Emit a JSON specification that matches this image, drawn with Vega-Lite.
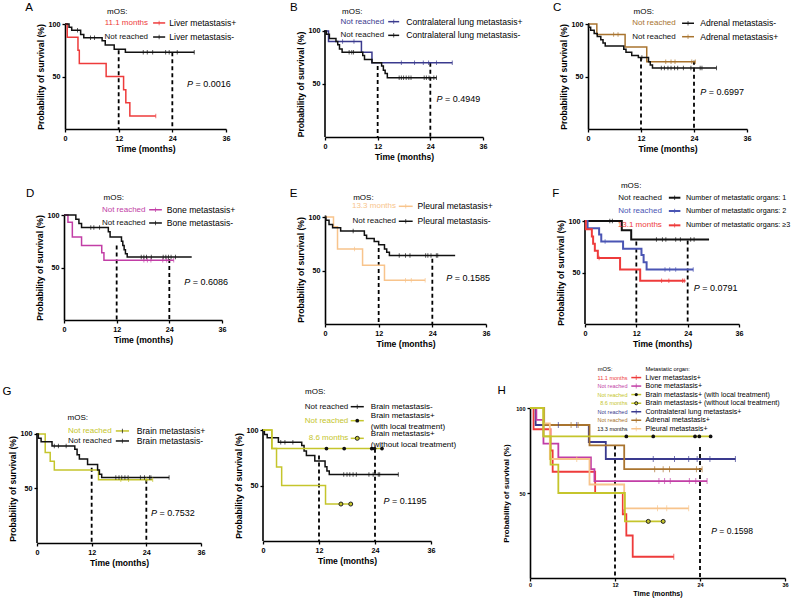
{
"$schema":"https://vega.github.io/schema/vega-lite/v6.json",
"padding":0,"background":"white",
"config":{"font":"Liberation Sans","view":{"stroke":null},
"axis":{"domainColor":"#000","domainWidth":1.6,"tickColor":"#000","tickWidth":1.3,"tickSize":3,"labelColor":"#000","labelFontWeight":"bold","labelFontSize":7.2,"labelPadding":2,"labelFlush":false,"labelOverlap":false,"titleColor":"#000","titleFontWeight":"bold","titleFontSize":8.6,"titlePadding":3,"grid":false}},
"datasets":{
"km":[
{"c":"liver","g":"liver","t":0,"s":100},{"c":"liver","g":"liver","t":0.5,"s":87.5},{"c":"liver","g":"liver","t":2.9,"s":75},{"c":"liver","g":"liver","t":3.2,"s":62.5},{"c":"liver","g":"liver","t":9.2,"s":50},{"c":"liver","g":"liver","t":13.1,"s":37.5},{"c":"liver","g":"liver","t":13.6,"s":25},{"c":"liver","g":"liver","t":14.5,"s":12.5},{"c":"liver","g":"liver","t":20.3,"s":12.5},
{"c":"liverneg","g":"neg","t":0,"s":100},{"c":"liverneg","g":"neg","t":0.9,"s":97},{"c":"liverneg","g":"neg","t":1.5,"s":94},{"c":"liverneg","g":"neg","t":3.5,"s":90},{"c":"liverneg","g":"neg","t":4.2,"s":87},{"c":"liverneg","g":"neg","t":8.3,"s":84},{"c":"liverneg","g":"neg","t":9.0,"s":80},{"c":"liverneg","g":"neg","t":11.0,"s":76},{"c":"liverneg","g":"neg","t":13.5,"s":73},{"c":"liverneg","g":"neg","t":28.9,"s":73},
{"c":"lung","g":"lung","t":0,"s":100},{"c":"lung","g":"lung","t":0.8,"s":90},{"c":"lung","g":"lung","t":8.3,"s":80},{"c":"lung","g":"lung","t":10.7,"s":70},{"c":"lung","g":"lung","t":29,"s":70},
{"c":"lungneg","g":"neg","t":0,"s":100},{"c":"lungneg","g":"neg","t":0.3,"s":97},{"c":"lungneg","g":"neg","t":1.0,"s":93},{"c":"lungneg","g":"neg","t":2.5,"s":90},{"c":"lungneg","g":"neg","t":2.9,"s":87},{"c":"lungneg","g":"neg","t":3.3,"s":83},{"c":"lungneg","g":"neg","t":3.9,"s":80},{"c":"lungneg","g":"neg","t":8.6,"s":77},{"c":"lungneg","g":"neg","t":9.0,"s":73},{"c":"lungneg","g":"neg","t":10.7,"s":70},{"c":"lungneg","g":"neg","t":12.9,"s":67},{"c":"lungneg","g":"neg","t":13.3,"s":63},{"c":"lungneg","g":"neg","t":13.7,"s":60},{"c":"lungneg","g":"neg","t":14.2,"s":56},{"c":"lungneg","g":"neg","t":25.4,"s":56},
{"c":"adr","g":"adrenal","t":0,"s":100},{"c":"adr","g":"adrenal","t":2.0,"s":90},{"c":"adr","g":"adrenal","t":8.4,"s":78},{"c":"adr","g":"adrenal","t":13.3,"s":64},{"c":"adr","g":"adrenal","t":24.3,"s":64},
{"c":"adrneg","g":"neg","t":0,"s":100},{"c":"adrneg","g":"neg","t":0.15,"s":97},{"c":"adrneg","g":"neg","t":0.6,"s":94},{"c":"adrneg","g":"neg","t":1.4,"s":91},{"c":"adrneg","g":"neg","t":2.1,"s":88},{"c":"adrneg","g":"neg","t":2.9,"s":85},{"c":"adrneg","g":"neg","t":3.4,"s":82},{"c":"adrneg","g":"neg","t":3.9,"s":79},{"c":"adrneg","g":"neg","t":8.1,"s":76},{"c":"adrneg","g":"neg","t":8.6,"s":73},{"c":"adrneg","g":"neg","t":9.9,"s":70},{"c":"adrneg","g":"neg","t":11.4,"s":68},{"c":"adrneg","g":"neg","t":13.7,"s":64},{"c":"adrneg","g":"neg","t":14.1,"s":61},{"c":"adrneg","g":"neg","t":14.6,"s":58},{"c":"adrneg","g":"neg","t":29.1,"s":58},
{"c":"bone","g":"bone","t":0,"s":100},{"c":"bone","g":"bone","t":0.9,"s":93},{"c":"bone","g":"bone","t":1.9,"s":79},{"c":"bone","g":"bone","t":4.0,"s":71},{"c":"bone","g":"bone","t":8.6,"s":64},{"c":"bone","g":"bone","t":9.1,"s":57},{"c":"bone","g":"bone","t":25,"s":57},
{"c":"boneneg","g":"neg","t":0,"s":100},{"c":"boneneg","g":"neg","t":2.7,"s":96},{"c":"boneneg","g":"neg","t":3.4,"s":92},{"c":"boneneg","g":"neg","t":4.0,"s":88},{"c":"boneneg","g":"neg","t":10.1,"s":84},{"c":"boneneg","g":"neg","t":10.5,"s":79},{"c":"boneneg","g":"neg","t":13.1,"s":75},{"c":"boneneg","g":"neg","t":13.4,"s":71},{"c":"boneneg","g":"neg","t":13.7,"s":67},{"c":"boneneg","g":"neg","t":14.0,"s":63},{"c":"boneneg","g":"neg","t":14.4,"s":60},{"c":"boneneg","g":"neg","t":29.1,"s":60},
{"c":"pleu","g":"pleural","t":0,"s":100},{"c":"pleu","g":"pleural","t":1.9,"s":91},{"c":"pleu","g":"pleural","t":2.8,"s":70},{"c":"pleu","g":"pleural","t":8.4,"s":55},{"c":"pleu","g":"pleural","t":13.3,"s":41},{"c":"pleu","g":"pleural","t":22.4,"s":41},
{"c":"pleuneg","g":"neg","t":0,"s":100},{"c":"pleuneg","g":"neg","t":0.2,"s":97},{"c":"pleuneg","g":"neg","t":0.9,"s":93},{"c":"pleuneg","g":"neg","t":1.7,"s":90},{"c":"pleuneg","g":"neg","t":3.5,"s":87},{"c":"pleuneg","g":"neg","t":8.8,"s":83},{"c":"pleuneg","g":"neg","t":9.3,"s":80},{"c":"pleuneg","g":"neg","t":11.0,"s":77},{"c":"pleuneg","g":"neg","t":12.0,"s":74},{"c":"pleuneg","g":"neg","t":13.3,"s":70},{"c":"pleuneg","g":"neg","t":13.8,"s":67},{"c":"pleuneg","g":"neg","t":14.4,"s":64},{"c":"pleuneg","g":"neg","t":29.1,"s":64},
{"c":"n1","g":"neg","t":0,"s":100},{"c":"n1","g":"neg","t":8.6,"s":91},{"c":"n1","g":"neg","t":10.8,"s":82},{"c":"n1","g":"neg","t":29,"s":82},
{"c":"n2","g":"n2","t":0,"s":100},{"c":"n2","g":"n2","t":0.6,"s":93},{"c":"n2","g":"n2","t":3.3,"s":87},{"c":"n2","g":"n2","t":3.8,"s":80},{"c":"n2","g":"n2","t":8.9,"s":73},{"c":"n2","g":"n2","t":13.2,"s":67},{"c":"n2","g":"n2","t":13.7,"s":60},{"c":"n2","g":"n2","t":14.4,"s":53},{"c":"n2","g":"n2","t":25.3,"s":53},
{"c":"n3","g":"n3","t":0,"s":100},{"c":"n3","g":"n3","t":0.2,"s":92},{"c":"n3","g":"n3","t":1.6,"s":85},{"c":"n3","g":"n3","t":1.9,"s":78},{"c":"n3","g":"n3","t":2.3,"s":71},{"c":"n3","g":"n3","t":3.0,"s":64},{"c":"n3","g":"n3","t":8.2,"s":53},{"c":"n3","g":"n3","t":12.9,"s":42},{"c":"n3","g":"n3","t":23.5,"s":42},
{"c":"brain","g":"brain","t":0,"s":100},{"c":"brain","g":"brain","t":1.8,"s":83},{"c":"brain","g":"brain","t":2.9,"s":75},{"c":"brain","g":"brain","t":3.8,"s":67},{"c":"brain","g":"brain","t":13.5,"s":58},{"c":"brain","g":"brain","t":25.4,"s":58},
{"c":"brainneg","g":"neg","t":0,"s":100},{"c":"brainneg","g":"neg","t":0.3,"s":96},{"c":"brainneg","g":"neg","t":0.9,"s":93},{"c":"brainneg","g":"neg","t":3.3,"s":89},{"c":"brainneg","g":"neg","t":8.3,"s":86},{"c":"brainneg","g":"neg","t":8.8,"s":81},{"c":"brainneg","g":"neg","t":9.3,"s":77},{"c":"brainneg","g":"neg","t":11.1,"s":72},{"c":"brainneg","g":"neg","t":13.3,"s":67},{"c":"brainneg","g":"neg","t":13.7,"s":63},{"c":"brainneg","g":"neg","t":14.2,"s":60},{"c":"brainneg","g":"neg","t":29,"s":60},
{"c":"bwith","g":"brain","t":0,"s":100},{"c":"bwith","g":"brain","t":1.9,"s":83.3},{"c":"bwith","g":"brain","t":25.5,"s":83.3},
{"c":"bwithout","g":"brain","t":0,"s":100},{"c":"bwithout","g":"brain","t":1.9,"s":83.3},{"c":"bwithout","g":"brain","t":2.9,"s":66.7},{"c":"bwithout","g":"brain","t":4.0,"s":50},{"c":"bwithout","g":"brain","t":13.4,"s":33.3},{"c":"bwithout","g":"brain","t":18.8,"s":33.3}
],
"cens":[
{"c":"liver","g":"liver","t":20.3,"s":12.5},
{"c":"liverneg","g":"neg","t":2.8,"s":94},{"c":"liverneg","g":"neg","t":5.7,"s":87},{"c":"liverneg","g":"neg","t":6.6,"s":87},{"c":"liverneg","g":"neg","t":17.5,"s":73},{"c":"liverneg","g":"neg","t":18.4,"s":73},{"c":"liverneg","g":"neg","t":19.6,"s":73},{"c":"liverneg","g":"neg","t":22.5,"s":73},{"c":"liverneg","g":"neg","t":23.3,"s":73},{"c":"liverneg","g":"neg","t":25.1,"s":73},{"c":"liverneg","g":"neg","t":28.9,"s":73},
{"c":"lung","g":"lung","t":4.0,"s":90},{"c":"lung","g":"lung","t":6.6,"s":90},{"c":"lung","g":"lung","t":17.4,"s":70},{"c":"lung","g":"lung","t":20.4,"s":70},{"c":"lung","g":"lung","t":22.4,"s":70},{"c":"lung","g":"lung","t":23.6,"s":70},{"c":"lung","g":"lung","t":25.4,"s":70},{"c":"lung","g":"lung","t":29,"s":70},
{"c":"lungneg","g":"neg","t":5.5,"s":80},{"c":"lungneg","g":"neg","t":6.1,"s":80},{"c":"lungneg","g":"neg","t":6.5,"s":80},{"c":"lungneg","g":"neg","t":16.9,"s":56},{"c":"lungneg","g":"neg","t":17.4,"s":56},{"c":"lungneg","g":"neg","t":17.9,"s":56},{"c":"lungneg","g":"neg","t":18.5,"s":56},{"c":"lungneg","g":"neg","t":19.1,"s":56},{"c":"lungneg","g":"neg","t":19.6,"s":56},{"c":"lungneg","g":"neg","t":22.6,"s":56},{"c":"lungneg","g":"neg","t":23.1,"s":56},{"c":"lungneg","g":"neg","t":23.7,"s":56},{"c":"lungneg","g":"neg","t":24.8,"s":56},{"c":"lungneg","g":"neg","t":25.4,"s":56},
{"c":"adr","g":"adrenal","t":5.8,"s":90},{"c":"adr","g":"adrenal","t":6.8,"s":90},{"c":"adr","g":"adrenal","t":17.6,"s":64},{"c":"adr","g":"adrenal","t":18.8,"s":64},{"c":"adr","g":"adrenal","t":19.7,"s":64},{"c":"adr","g":"adrenal","t":23.5,"s":64},{"c":"adr","g":"adrenal","t":24.3,"s":64},
{"c":"adrneg","g":"neg","t":12.2,"s":68},{"c":"adrneg","g":"neg","t":16.6,"s":58},{"c":"adrneg","g":"neg","t":17.3,"s":58},{"c":"adrneg","g":"neg","t":18.1,"s":58},{"c":"adrneg","g":"neg","t":18.8,"s":58},{"c":"adrneg","g":"neg","t":19.6,"s":58},{"c":"adrneg","g":"neg","t":20.3,"s":58},{"c":"adrneg","g":"neg","t":21.6,"s":58},{"c":"adrneg","g":"neg","t":23.3,"s":58},{"c":"adrneg","g":"neg","t":25.4,"s":58},{"c":"adrneg","g":"neg","t":25.8,"s":58},{"c":"adrneg","g":"neg","t":29.1,"s":58},
{"c":"bone","g":"bone","t":18.2,"s":57},{"c":"bone","g":"bone","t":19.0,"s":57},{"c":"bone","g":"bone","t":19.8,"s":57},{"c":"bone","g":"bone","t":22.5,"s":57},{"c":"bone","g":"bone","t":23.4,"s":57},{"c":"bone","g":"bone","t":25,"s":57},
{"c":"boneneg","g":"neg","t":6.1,"s":88},{"c":"boneneg","g":"neg","t":6.8,"s":88},{"c":"boneneg","g":"neg","t":8.1,"s":88},{"c":"boneneg","g":"neg","t":17.6,"s":60},{"c":"boneneg","g":"neg","t":18.2,"s":60},{"c":"boneneg","g":"neg","t":18.8,"s":60},{"c":"boneneg","g":"neg","t":19.9,"s":60},{"c":"boneneg","g":"neg","t":22.6,"s":60},{"c":"boneneg","g":"neg","t":23.2,"s":60},{"c":"boneneg","g":"neg","t":23.8,"s":60},{"c":"boneneg","g":"neg","t":24.4,"s":60},{"c":"boneneg","g":"neg","t":25.4,"s":60},
{"c":"pleu","g":"pleural","t":6.6,"s":70},{"c":"pleu","g":"pleural","t":18.0,"s":41},{"c":"pleu","g":"pleural","t":19.3,"s":41},{"c":"pleu","g":"pleural","t":22.4,"s":41},
{"c":"pleuneg","g":"neg","t":6.3,"s":87},{"c":"pleuneg","g":"neg","t":16.6,"s":64},{"c":"pleuneg","g":"neg","t":18.0,"s":64},{"c":"pleuneg","g":"neg","t":19.0,"s":64},{"c":"pleuneg","g":"neg","t":22.5,"s":64},{"c":"pleuneg","g":"neg","t":23.0,"s":64},{"c":"pleuneg","g":"neg","t":23.7,"s":64},{"c":"pleuneg","g":"neg","t":24.9,"s":64},{"c":"pleuneg","g":"neg","t":25.2,"s":64},
{"c":"n1","g":"neg","t":5.8,"s":100},{"c":"n1","g":"neg","t":6.4,"s":100},{"c":"n1","g":"neg","t":16.7,"s":82},{"c":"n1","g":"neg","t":18.1,"s":82},{"c":"n1","g":"neg","t":18.9,"s":82},{"c":"n1","g":"neg","t":21.2,"s":82},{"c":"n1","g":"neg","t":22.3,"s":82},{"c":"n1","g":"neg","t":24.7,"s":82},{"c":"n1","g":"neg","t":25.5,"s":82},
{"c":"n2","g":"n2","t":4.7,"s":80},{"c":"n2","g":"n2","t":18.7,"s":53},{"c":"n2","g":"n2","t":19.8,"s":53},{"c":"n2","g":"n2","t":21.2,"s":53},{"c":"n2","g":"n2","t":25.3,"s":53},
{"c":"n3","g":"n3","t":3.3,"s":64},{"c":"n3","g":"n3","t":17.9,"s":42},{"c":"n3","g":"n3","t":19.6,"s":42},{"c":"n3","g":"n3","t":22.8,"s":42},{"c":"n3","g":"n3","t":23.2,"s":42},
{"c":"brain","g":"brain","t":18.4,"s":58},{"c":"brain","g":"brain","t":20.1,"s":58},{"c":"brain","g":"brain","t":24.0,"s":58},{"c":"brain","g":"brain","t":25.4,"s":58},
{"c":"brainneg","g":"neg","t":3.8,"s":89},{"c":"brainneg","g":"neg","t":4.7,"s":89},{"c":"brainneg","g":"neg","t":6.4,"s":89},{"c":"brainneg","g":"neg","t":17.3,"s":60},{"c":"brainneg","g":"neg","t":18.0,"s":60},{"c":"brainneg","g":"neg","t":18.6,"s":60},{"c":"brainneg","g":"neg","t":19.3,"s":60},{"c":"brainneg","g":"neg","t":20.0,"s":60},{"c":"brainneg","g":"neg","t":22.7,"s":60},{"c":"brainneg","g":"neg","t":23.6,"s":60},{"c":"brainneg","g":"neg","t":24.7,"s":60},{"c":"brainneg","g":"neg","t":25.0,"s":60},{"c":"brainneg","g":"neg","t":29,"s":60}
],
"dots":[
{"c":"bwith","t":13.6,"s":83.3},{"c":"bwith","t":17.4,"s":83.3},{"c":"bwith","t":23.3,"s":83.3},{"c":"bwith","t":23.9,"s":83.3},{"c":"bwith","t":25.5,"s":83.3},
{"c":"bwithout","t":16.7,"s":33.3},{"c":"bwithout","t":18.8,"s":33.3}
],
"dash":[
{"p":"A","t":12,"top":75},{"p":"A","t":24,"top":73},
{"p":"B","t":12,"top":67},{"p":"B","t":24,"top":70},
{"p":"C","t":12,"top":68},{"p":"C","t":24,"top":65},
{"p":"D","t":12,"top":71},{"p":"D","t":24,"top":58},
{"p":"E","t":12,"top":71},{"p":"E","t":24,"top":61},
{"p":"F","t":12,"top":80},{"p":"F","t":24,"top":81},
{"p":"G1","t":12,"top":69},{"p":"G1","t":24,"top":58},
{"p":"G2","t":12,"top":77},{"p":"G2","t":24,"top":83},
{"p":"H","t":12,"top":78},{"p":"H","t":24,"top":77}
],
"box":[
{"p":"A","xl":-14.087,"xr":44.944,"yt":121.905,"yb":-40.0},
{"p":"B","xl":-13.443,"xr":48.076,"yt":128.302,"yb":-32.075},
{"p":"C","xl":-11.547,"xr":48.453,"yt":121.905,"yb":-40.0},
{"p":"D","xl":-14.354,"xr":45.797,"yt":140.952,"yb":-32.381},
{"p":"E","xl":-13.193,"xr":47.180,"yt":142.056,"yb":-28.037},
{"p":"F","xl":-11.221,"xr":50.727,"yt":147.573,"yb":-29.126},
{"p":"G1","xl":-7.683,"xr":39.293,"yt":171.560,"yb":-51.376},
{"p":"G2","xl":-9.643,"xr":46.071,"yt":166.667,"yb":-52.252},
{"p":"H","xl":-7.341,"xr":37.835,"yt":130.588,"yb":-12.353}
],
"pv":[
{"p":"A","x":27.3,"y":43,"v":"= 0.0016"},
{"p":"B","x":25.4,"y":35.5,"v":"= 0.4949"},
{"p":"C","x":25.4,"y":35.5,"v":"= 0.6997"},
{"p":"D","x":27.4,"y":36.2,"v":"= 0.6086"},
{"p":"E","x":27.1,"y":43.3,"v":"= 0.1585"},
{"p":"F","x":25.4,"y":35.2,"v":"= 0.0791"},
{"p":"G1","x":25.0,"y":27.2,"v":"= 0.7532"},
{"p":"G2","x":25.8,"y":36,"v":"= 0.1195"},
{"p":"H","x":25.6,"y":27.7,"v":"= 0.1598"}
],
"let":[
{"p":"A","x":-8.05,"y":115.5,"text":"A"},
{"p":"B","x":-7.1,"y":122,"text":"B"},
{"p":"C","x":-7.0,"y":115.5,"text":"C"},
{"p":"D","x":-7.7,"y":119.7,"text":"D"},
{"p":"E","x":-7.0,"y":121.8,"text":"E"},
{"p":"F","x":-6.85,"y":126,"text":"F"},
{"p":"G1","x":-6.6,"y":138.5,"text":"G"},
{"p":"H","x":-4.0,"y":109.8,"text":"H"}
],
"hdr":[
{"p":"A","x":9.4,"y":111.4,"text":"mOS:"},
{"p":"B","x":3.9,"y":117.9,"text":"mOS:"},
{"p":"C","x":10.3,"y":111.4,"text":"mOS:"},
{"p":"D","x":9.0,"y":116.2,"text":"mOS:"},
{"p":"E","x":6.3,"y":117.8,"text":"mOS:"},
{"p":"F","x":8.4,"y":134,"text":"mOS:"},
{"p":"G1","x":6.7,"y":114.4,"text":"mOS:"},
{"p":"G2","x":9.0,"y":134,"text":"mOS:"},
{"p":"H","x":9.56,"y":122.9,"text":"mOS:"},
{"p":"H","x":16.3,"y":122.9,"text":"Metastatic organ:"}
],
"leg":[
{"p":"A","y":101,"val":"11.1 months","vg":"liver","sg":"liver","lab":"Liver metastasis+","sym":"tick","xv":18.8,"x1":19.7,"x2":22.4,"xm":21.05,"xl":23.3},
{"p":"A","y":87.6,"val":"Not reached","vg":"neg","sg":"neg","lab":"Liver metastasis-","sym":"tick","xv":18.8,"x1":19.7,"x2":22.4,"xm":21.05,"xl":23.3},
{"p":"B","y":108.8,"val":"Not reached","vg":"lung","sg":"lung","lab":"Contralateral lung metastasis+","sym":"tick","xv":13.7,"x1":14.4,"x2":16.9,"xm":15.65,"xl":18.5},
{"p":"B","y":95.9,"val":"Not reached","vg":"neg","sg":"neg","lab":"Contralateral lung metastasis-","sym":"tick","xv":13.7,"x1":14.4,"x2":16.9,"xm":15.65,"xl":18.5},
{"p":"C","y":100.7,"val":"Not reached","vg":"adrenal","sg":"neg","lab":"Adrenal metastasis-","sym":"tick","xv":20.1,"x1":21.3,"x2":24,"xm":22.65,"xl":25.4},
{"p":"C","y":87.9,"val":"Not reached","vg":"neg","sg":"adrenal","lab":"Adrenal metastasis+","sym":"tick","xv":20.1,"x1":21.3,"x2":24,"xm":22.65,"xl":25.4},
{"p":"D","y":105,"val":"Not reached","vg":"bone","sg":"bone","lab":"Bone metastasis+","sym":"tick","xv":18.8,"x1":19.4,"x2":22.3,"xm":20.85,"xl":23.4},
{"p":"D","y":92.4,"val":"Not reached","vg":"neg","sg":"neg","lab":"Bone metastasis-","sym":"tick","xv":18.8,"x1":19.4,"x2":22.3,"xm":20.85,"xl":23.4},
{"p":"E","y":110,"val":"13.3 months","vg":"pleural","sg":"pleural","lab":"Pleural metastasis+","sym":"tick","xv":16.1,"x1":16.5,"x2":19.6,"xm":18.05,"xl":20.7},
{"p":"E","y":96,"val":"Not reached","vg":"neg","sg":"neg","lab":"Pleural metastasis-","sym":"tick","xv":16.1,"x1":16.5,"x2":19.6,"xm":18.05,"xl":20.7},
{"p":"F","y":122.6,"val":"Not reached","vg":"neg","sg":"neg","lab":"Number of metastatic organs: 1","sym":"tick","xv":18.2,"x1":19.6,"x2":22.3,"xm":20.95,"xl":23.6},
{"p":"F","y":109.7,"val":"Not reached","vg":"n2","sg":"n2","lab":"Number of metastatic organs: 2","sym":"tick","xv":18.2,"x1":19.6,"x2":22.3,"xm":20.95,"xl":23.6},
{"p":"F","y":95.8,"val":"13.1 months","vg":"n3","sg":"n3","lab":"Number of metastatic organs: ≥3","sym":"tick","xv":18.2,"x1":19.6,"x2":22.3,"xm":20.95,"xl":23.6},
{"p":"G1","y":102.8,"val":"Not reached","vg":"brain","sg":"brain","lab":"Brain metastasis+","sym":"tick","xv":16.6,"x1":17.3,"x2":20.2,"xm":18.75,"xl":21.9},
{"p":"G1","y":93.6,"val":"Not reached","vg":"neg","sg":"neg","lab":"Brain metastasis-","sym":"tick","xv":16.6,"x1":17.3,"x2":20.2,"xm":18.75,"xl":21.9},
{"p":"G2","y":121,"ly":121,"val":"Not reached","vg":"neg","sg":"neg","lab":"Brain metastasis-","sym":"tick","xv":18.5,"x1":18.8,"x2":21.6,"xm":20.2,"xl":23.1},
{"p":"G2","y":108.4,"ly":112.9,"val":"Not reached","vg":"brain","sg":"brain","lab":"Brain metastasis+\n(with local treatment)","sym":"dot","xv":18.5,"x1":18.8,"x2":21.6,"xm":20.2,"xl":23.1},
{"p":"G2","y":92.5,"ly":96.1,"val":"8.6 months","vg":"brain","sg":"brain","lab":"Brain metastasis+\n(without local treatment)","sym":"circle","xv":18.5,"x1":18.8,"x2":21.6,"xm":20.2,"xl":23.1},
{"p":"H","y":117.9,"val":"11.1 months","vg":"liver","sg":"liver","lab":"Liver metastasis+","sym":"tick","xv":13.9,"x1":14.3,"x2":15.7,"xm":15.0,"xl":16.3},
{"p":"H","y":112.9,"val":"Not reached","vg":"bone","sg":"bone","lab":"Bone metastasis+","sym":"tick","xv":13.9,"x1":14.3,"x2":15.7,"xm":15.0,"xl":16.3},
{"p":"H","y":107.9,"val":"Not reached","vg":"brain","sg":"brain","lab":"Brain metastasis+ (with local treatment)","sym":"dot","xv":13.9,"x1":14.3,"x2":15.7,"xm":15.0,"xl":16.3},
{"p":"H","y":102.8,"val":"8.6 months","vg":"brain","sg":"brain","lab":"Brain metastasis+ (without local treatment)","sym":"circle","xv":13.9,"x1":14.3,"x2":15.7,"xm":15.0,"xl":16.3},
{"p":"H","y":97.8,"val":"Not reached","vg":"lung","sg":"lung","lab":"Contralateral lung metastasis+","sym":"tick","xv":13.9,"x1":14.3,"x2":15.7,"xm":15.0,"xl":16.3},
{"p":"H","y":92.8,"val":"Not reached","vg":"adrenal","sg":"adrenal","lab":"Adrenal metastasis+","sym":"tick","xv":13.9,"x1":14.3,"x2":15.7,"xm":15.0,"xl":16.3},
{"p":"H","y":87.8,"val":"13.3 months","vg":"neg","sg":"pleural","lab":"Pleural metastasis+","sym":"tick","xv":13.9,"x1":14.3,"x2":15.7,"xm":15.0,"xl":16.3}
]
},
"columns":1,"spacing":0,"align":"each",
"concat":[
{"columns":4,"spacing":0,"align":"each","concat":[
{"width":1,"height":1,"data":{"values":[]},"mark":"point"},
{"width":161,"height":105,"layer":[
{"data":{"name":"box"},"transform":[{"filter":{"field":"p","equal":"A"}}],"mark":{"type":"rule","opacity":0,"color":"#fff"},"encoding":{"x":{"field":"xl","type":"quantitative"},"x2":{"field":"xr"},"y":{"field":"yt","type":"quantitative"},"y2":{"field":"yb"}}},
{"data":{"name":"dash"},"transform":[{"filter":{"field":"p","equal":"A"}}],"mark":{"type":"rule","strokeDash":[4,3],"strokeWidth":1.8,"color":"#000"},"encoding":{"x":{"field":"t","type":"quantitative","scale":{"domain":[0,36],"nice":false},"axis":{"values":[0,12,24,36],"title":"Time (months)"}},"y":{"field":"top","type":"quantitative","scale":{"domain":[0,100],"nice":false},"axis":{"values":[50,100],"title":"Probability of survival (%)"}},"y2":{"datum":0}}},
{"data":{"name":"km"},"transform":[{"filter":{"field":"c","oneOf":["liver","liverneg"]}}],"mark":{"type":"line","interpolate":"step-after","strokeWidth":1.5},"encoding":{"x":{"field":"t","type":"quantitative"},"y":{"field":"s","type":"quantitative"},"detail":{"field":"c"},"color":{"field":"g","type":"nominal","legend":null,"scale":{"domain":["neg","liver","lung","adrenal","bone","pleural","brain","n2","n3"],"range":["#111111","#ee3b3b","#3a3a8e","#a9742f","#c23ea6","#f8c48c","#c5c52c","#4a55b4","#ee3b3b"]}}}},
{"data":{"name":"cens"},"transform":[{"filter":{"field":"c","oneOf":["liver","liverneg"]}}],"mark":{"type":"tick","orient":"vertical","size":4.5,"thickness":1},"encoding":{"x":{"field":"t","type":"quantitative"},"y":{"field":"s","type":"quantitative"},"color":{"field":"g","type":"nominal","legend":null}}},
{"data":{"name":"leg"},"transform":[{"filter":{"field":"p","equal":"A"}}],"mark":{"type":"rule","strokeWidth":1.5},"encoding":{"x":{"field":"x1","type":"quantitative"},"x2":{"field":"x2"},"y":{"field":"y","type":"quantitative"},"color":{"field":"sg","type":"nominal","legend":null}}},
{"data":{"name":"leg"},"transform":[{"filter":{"field":"p","equal":"A"}}],"mark":{"type":"tick","orient":"vertical","size":4.5,"thickness":1},"encoding":{"x":{"field":"xm","type":"quantitative"},"y":{"field":"y","type":"quantitative"},"color":{"field":"sg","type":"nominal","legend":null}}},
{"data":{"name":"leg"},"transform":[{"filter":{"field":"p","equal":"A"}}],"mark":{"type":"text","align":"right","baseline":"middle","fontSize":8,"dx":-1},"encoding":{"x":{"field":"xv","type":"quantitative"},"y":{"field":"y","type":"quantitative"},"text":{"field":"val"},"color":{"field":"vg","type":"nominal","legend":null}}},
{"data":{"name":"leg"},"transform":[{"filter":{"field":"p","equal":"A"}}],"mark":{"type":"text","align":"left","baseline":"middle","fontSize":8.6,"color":"#000"},"encoding":{"x":{"field":"xl","type":"quantitative"},"y":{"field":"y","type":"quantitative"},"text":{"field":"lab"}}},
{"data":{"name":"hdr"},"transform":[{"filter":{"field":"p","equal":"A"}}],"mark":{"type":"text","align":"left","baseline":"middle","fontSize":8,"color":"#000"},"encoding":{"x":{"field":"x","type":"quantitative"},"y":{"field":"y","type":"quantitative"},"text":{"field":"text"}}},
{"data":{"name":"pv"},"transform":[{"filter":{"field":"p","equal":"A"}}],"mark":{"type":"text","align":"left","baseline":"middle","fontSize":9,"fontStyle":"italic","color":"#000"},"encoding":{"x":{"field":"x","type":"quantitative"},"y":{"field":"y","type":"quantitative"},"text":{"value":"P"}}},
{"data":{"name":"pv"},"transform":[{"filter":{"field":"p","equal":"A"}}],"mark":{"type":"text","align":"left","baseline":"middle","fontSize":9,"dx":8.5,"color":"#000"},"encoding":{"x":{"field":"x","type":"quantitative"},"y":{"field":"y","type":"quantitative"},"text":{"field":"v"}}},
{"data":{"name":"let"},"transform":[{"filter":{"field":"p","equal":"A"}}],"mark":{"type":"text","align":"center","baseline":"middle","fontSize":11.5,"color":"#000"},"encoding":{"x":{"field":"x","type":"quantitative"},"y":{"field":"y","type":"quantitative"},"text":{"field":"text"}}}
]},
{"width":158,"height":113,"layer":[
{"data":{"name":"box"},"transform":[{"filter":{"field":"p","equal":"B"}}],"mark":{"type":"rule","opacity":0,"color":"#fff"},"encoding":{"x":{"field":"xl","type":"quantitative"},"x2":{"field":"xr"},"y":{"field":"yt","type":"quantitative"},"y2":{"field":"yb"}}},
{"data":{"name":"dash"},"transform":[{"filter":{"field":"p","equal":"B"}}],"mark":{"type":"rule","strokeDash":[4,3],"strokeWidth":1.8,"color":"#000"},"encoding":{"x":{"field":"t","type":"quantitative","scale":{"domain":[0,36],"nice":false},"axis":{"values":[0,12,24,36],"title":"Time (months)"}},"y":{"field":"top","type":"quantitative","scale":{"domain":[0,106.6],"nice":false},"axis":{"values":[50,100],"title":"Probability of survival (%)","domain":false,"titleY":60}},"y2":{"datum":0}}},
{"data":{"values":[{}]},"mark":{"type":"rule","color":"#000","strokeWidth":1.6},"encoding":{"x":{"datum":0,"type":"quantitative"},"y":{"datum":0,"type":"quantitative"},"y2":{"datum":101}}},
{"data":{"name":"km"},"transform":[{"filter":{"field":"c","oneOf":["lung","lungneg"]}}],"mark":{"type":"line","interpolate":"step-after","strokeWidth":1.5},"encoding":{"x":{"field":"t","type":"quantitative"},"y":{"field":"s","type":"quantitative"},"detail":{"field":"c"},"color":{"field":"g","type":"nominal","legend":null,"scale":{"domain":["neg","liver","lung","adrenal","bone","pleural","brain","n2","n3"],"range":["#111111","#ee3b3b","#3a3a8e","#a9742f","#c23ea6","#f8c48c","#c5c52c","#4a55b4","#ee3b3b"]}}}},
{"data":{"name":"cens"},"transform":[{"filter":{"field":"c","oneOf":["lung","lungneg"]}}],"mark":{"type":"tick","orient":"vertical","size":4.5,"thickness":1},"encoding":{"x":{"field":"t","type":"quantitative"},"y":{"field":"s","type":"quantitative"},"color":{"field":"g","type":"nominal","legend":null}}},
{"data":{"name":"leg"},"transform":[{"filter":{"field":"p","equal":"B"}}],"mark":{"type":"rule","strokeWidth":1.5},"encoding":{"x":{"field":"x1","type":"quantitative"},"x2":{"field":"x2"},"y":{"field":"y","type":"quantitative"},"color":{"field":"sg","type":"nominal","legend":null}}},
{"data":{"name":"leg"},"transform":[{"filter":{"field":"p","equal":"B"}}],"mark":{"type":"tick","orient":"vertical","size":4.5,"thickness":1},"encoding":{"x":{"field":"xm","type":"quantitative"},"y":{"field":"y","type":"quantitative"},"color":{"field":"sg","type":"nominal","legend":null}}},
{"data":{"name":"leg"},"transform":[{"filter":{"field":"p","equal":"B"}}],"mark":{"type":"text","align":"right","baseline":"middle","fontSize":8,"dx":-1},"encoding":{"x":{"field":"xv","type":"quantitative"},"y":{"field":"y","type":"quantitative"},"text":{"field":"val"},"color":{"field":"vg","type":"nominal","legend":null}}},
{"data":{"name":"leg"},"transform":[{"filter":{"field":"p","equal":"B"}}],"mark":{"type":"text","align":"left","baseline":"middle","fontSize":8.6,"color":"#000"},"encoding":{"x":{"field":"xl","type":"quantitative"},"y":{"field":"y","type":"quantitative"},"text":{"field":"lab"}}},
{"data":{"name":"hdr"},"transform":[{"filter":{"field":"p","equal":"B"}}],"mark":{"type":"text","align":"left","baseline":"middle","fontSize":8,"color":"#000"},"encoding":{"x":{"field":"x","type":"quantitative"},"y":{"field":"y","type":"quantitative"},"text":{"field":"text"}}},
{"data":{"name":"pv"},"transform":[{"filter":{"field":"p","equal":"B"}}],"mark":{"type":"text","align":"left","baseline":"middle","fontSize":9,"fontStyle":"italic","color":"#000"},"encoding":{"x":{"field":"x","type":"quantitative"},"y":{"field":"y","type":"quantitative"},"text":{"value":"P"}}},
{"data":{"name":"pv"},"transform":[{"filter":{"field":"p","equal":"B"}}],"mark":{"type":"text","align":"left","baseline":"middle","fontSize":9,"dx":8.5,"color":"#000"},"encoding":{"x":{"field":"x","type":"quantitative"},"y":{"field":"y","type":"quantitative"},"text":{"field":"v"}}},
{"data":{"name":"let"},"transform":[{"filter":{"field":"p","equal":"B"}}],"mark":{"type":"text","align":"center","baseline":"middle","fontSize":11.5,"color":"#000"},"encoding":{"x":{"field":"x","type":"quantitative"},"y":{"field":"y","type":"quantitative"},"text":{"field":"text"}}}
]},
{"width":159,"height":105,"layer":[
{"data":{"name":"box"},"transform":[{"filter":{"field":"p","equal":"C"}}],"mark":{"type":"rule","opacity":0,"color":"#fff"},"encoding":{"x":{"field":"xl","type":"quantitative"},"x2":{"field":"xr"},"y":{"field":"yt","type":"quantitative"},"y2":{"field":"yb"}}},
{"data":{"name":"dash"},"transform":[{"filter":{"field":"p","equal":"C"}}],"mark":{"type":"rule","strokeDash":[4,3],"strokeWidth":1.8,"color":"#000"},"encoding":{"x":{"field":"t","type":"quantitative","scale":{"domain":[0,36],"nice":false},"axis":{"values":[0,12,24,36],"title":"Time (months)"}},"y":{"field":"top","type":"quantitative","scale":{"domain":[0,100],"nice":false},"axis":{"values":[50,100],"title":"Probability of survival (%)"}},"y2":{"datum":0}}},
{"data":{"name":"km"},"transform":[{"filter":{"field":"c","oneOf":["adrneg","adr"]}}],"mark":{"type":"line","interpolate":"step-after","strokeWidth":1.5},"encoding":{"x":{"field":"t","type":"quantitative"},"y":{"field":"s","type":"quantitative"},"detail":{"field":"c"},"color":{"field":"g","type":"nominal","legend":null,"scale":{"domain":["neg","liver","lung","adrenal","bone","pleural","brain","n2","n3"],"range":["#111111","#ee3b3b","#3a3a8e","#a9742f","#c23ea6","#f8c48c","#c5c52c","#4a55b4","#ee3b3b"]}}}},
{"data":{"name":"cens"},"transform":[{"filter":{"field":"c","oneOf":["adr","adrneg"]}}],"mark":{"type":"tick","orient":"vertical","size":4.5,"thickness":1},"encoding":{"x":{"field":"t","type":"quantitative"},"y":{"field":"s","type":"quantitative"},"color":{"field":"g","type":"nominal","legend":null}}},
{"data":{"name":"leg"},"transform":[{"filter":{"field":"p","equal":"C"}}],"mark":{"type":"rule","strokeWidth":1.5},"encoding":{"x":{"field":"x1","type":"quantitative"},"x2":{"field":"x2"},"y":{"field":"y","type":"quantitative"},"color":{"field":"sg","type":"nominal","legend":null}}},
{"data":{"name":"leg"},"transform":[{"filter":{"field":"p","equal":"C"}}],"mark":{"type":"tick","orient":"vertical","size":4.5,"thickness":1},"encoding":{"x":{"field":"xm","type":"quantitative"},"y":{"field":"y","type":"quantitative"},"color":{"field":"sg","type":"nominal","legend":null}}},
{"data":{"name":"leg"},"transform":[{"filter":{"field":"p","equal":"C"}}],"mark":{"type":"text","align":"right","baseline":"middle","fontSize":8,"dx":-1},"encoding":{"x":{"field":"xv","type":"quantitative"},"y":{"field":"y","type":"quantitative"},"text":{"field":"val"},"color":{"field":"vg","type":"nominal","legend":null}}},
{"data":{"name":"leg"},"transform":[{"filter":{"field":"p","equal":"C"}}],"mark":{"type":"text","align":"left","baseline":"middle","fontSize":8.6,"color":"#000"},"encoding":{"x":{"field":"xl","type":"quantitative"},"y":{"field":"y","type":"quantitative"},"text":{"field":"lab"}}},
{"data":{"name":"hdr"},"transform":[{"filter":{"field":"p","equal":"C"}}],"mark":{"type":"text","align":"left","baseline":"middle","fontSize":8,"color":"#000"},"encoding":{"x":{"field":"x","type":"quantitative"},"y":{"field":"y","type":"quantitative"},"text":{"field":"text"}}},
{"data":{"name":"pv"},"transform":[{"filter":{"field":"p","equal":"C"}}],"mark":{"type":"text","align":"left","baseline":"middle","fontSize":9,"fontStyle":"italic","color":"#000"},"encoding":{"x":{"field":"x","type":"quantitative"},"y":{"field":"y","type":"quantitative"},"text":{"value":"P"}}},
{"data":{"name":"pv"},"transform":[{"filter":{"field":"p","equal":"C"}}],"mark":{"type":"text","align":"left","baseline":"middle","fontSize":9,"dx":8.5,"color":"#000"},"encoding":{"x":{"field":"x","type":"quantitative"},"y":{"field":"y","type":"quantitative"},"text":{"field":"v"}}},
{"data":{"name":"let"},"transform":[{"filter":{"field":"p","equal":"C"}}],"mark":{"type":"text","align":"center","baseline":"middle","fontSize":11.5,"color":"#000"},"encoding":{"x":{"field":"x","type":"quantitative"},"y":{"field":"y","type":"quantitative"},"text":{"field":"text"}}}
]}
]},
{"columns":4,"spacing":0,"align":"each","concat":[
{"width":1,"height":1,"data":{"values":[]},"mark":"point"},
{"width":158,"height":105,"layer":[
{"data":{"name":"box"},"transform":[{"filter":{"field":"p","equal":"D"}}],"mark":{"type":"rule","opacity":0,"color":"#fff"},"encoding":{"x":{"field":"xl","type":"quantitative"},"x2":{"field":"xr"},"y":{"field":"yt","type":"quantitative"},"y2":{"field":"yb"}}},
{"data":{"name":"dash"},"transform":[{"filter":{"field":"p","equal":"D"}}],"mark":{"type":"rule","strokeDash":[4,3],"strokeWidth":1.8,"color":"#000"},"encoding":{"x":{"field":"t","type":"quantitative","scale":{"domain":[0,36],"nice":false},"axis":{"values":[0,12,24,36],"title":"Time (months)"}},"y":{"field":"top","type":"quantitative","scale":{"domain":[0,100],"nice":false},"axis":{"values":[50,100],"title":"Probability of survival (%)"}},"y2":{"datum":0}}},
{"data":{"name":"km"},"transform":[{"filter":{"field":"c","oneOf":["boneneg","bone"]}}],"mark":{"type":"line","interpolate":"step-after","strokeWidth":1.5},"encoding":{"x":{"field":"t","type":"quantitative"},"y":{"field":"s","type":"quantitative"},"detail":{"field":"c"},"color":{"field":"g","type":"nominal","legend":null,"scale":{"domain":["neg","liver","lung","adrenal","bone","pleural","brain","n2","n3"],"range":["#111111","#ee3b3b","#3a3a8e","#a9742f","#c23ea6","#f8c48c","#c5c52c","#4a55b4","#ee3b3b"]}}}},
{"data":{"name":"cens"},"transform":[{"filter":{"field":"c","oneOf":["bone","boneneg"]}}],"mark":{"type":"tick","orient":"vertical","size":4.5,"thickness":1},"encoding":{"x":{"field":"t","type":"quantitative"},"y":{"field":"s","type":"quantitative"},"color":{"field":"g","type":"nominal","legend":null}}},
{"data":{"name":"leg"},"transform":[{"filter":{"field":"p","equal":"D"}}],"mark":{"type":"rule","strokeWidth":1.5},"encoding":{"x":{"field":"x1","type":"quantitative"},"x2":{"field":"x2"},"y":{"field":"y","type":"quantitative"},"color":{"field":"sg","type":"nominal","legend":null}}},
{"data":{"name":"leg"},"transform":[{"filter":{"field":"p","equal":"D"}}],"mark":{"type":"tick","orient":"vertical","size":4.5,"thickness":1},"encoding":{"x":{"field":"xm","type":"quantitative"},"y":{"field":"y","type":"quantitative"},"color":{"field":"sg","type":"nominal","legend":null}}},
{"data":{"name":"leg"},"transform":[{"filter":{"field":"p","equal":"D"}}],"mark":{"type":"text","align":"right","baseline":"middle","fontSize":8,"dx":-1},"encoding":{"x":{"field":"xv","type":"quantitative"},"y":{"field":"y","type":"quantitative"},"text":{"field":"val"},"color":{"field":"vg","type":"nominal","legend":null}}},
{"data":{"name":"leg"},"transform":[{"filter":{"field":"p","equal":"D"}}],"mark":{"type":"text","align":"left","baseline":"middle","fontSize":8.6,"color":"#000"},"encoding":{"x":{"field":"xl","type":"quantitative"},"y":{"field":"y","type":"quantitative"},"text":{"field":"lab"}}},
{"data":{"name":"hdr"},"transform":[{"filter":{"field":"p","equal":"D"}}],"mark":{"type":"text","align":"left","baseline":"middle","fontSize":8,"color":"#000"},"encoding":{"x":{"field":"x","type":"quantitative"},"y":{"field":"y","type":"quantitative"},"text":{"field":"text"}}},
{"data":{"name":"pv"},"transform":[{"filter":{"field":"p","equal":"D"}}],"mark":{"type":"text","align":"left","baseline":"middle","fontSize":9,"fontStyle":"italic","color":"#000"},"encoding":{"x":{"field":"x","type":"quantitative"},"y":{"field":"y","type":"quantitative"},"text":{"value":"P"}}},
{"data":{"name":"pv"},"transform":[{"filter":{"field":"p","equal":"D"}}],"mark":{"type":"text","align":"left","baseline":"middle","fontSize":9,"dx":8.5,"color":"#000"},"encoding":{"x":{"field":"x","type":"quantitative"},"y":{"field":"y","type":"quantitative"},"text":{"field":"v"}}},
{"data":{"name":"let"},"transform":[{"filter":{"field":"p","equal":"D"}}],"mark":{"type":"text","align":"center","baseline":"middle","fontSize":11.5,"color":"#000"},"encoding":{"x":{"field":"x","type":"quantitative"},"y":{"field":"y","type":"quantitative"},"text":{"field":"text"}}}
]},
{"width":161,"height":109,"layer":[
{"data":{"name":"box"},"transform":[{"filter":{"field":"p","equal":"E"}}],"mark":{"type":"rule","opacity":0,"color":"#fff"},"encoding":{"x":{"field":"xl","type":"quantitative"},"x2":{"field":"xr"},"y":{"field":"yt","type":"quantitative"},"y2":{"field":"yb"}}},
{"data":{"name":"dash"},"transform":[{"filter":{"field":"p","equal":"E"}}],"mark":{"type":"rule","strokeDash":[4,3],"strokeWidth":1.8,"color":"#000"},"encoding":{"x":{"field":"t","type":"quantitative","scale":{"domain":[0,36],"nice":false},"axis":{"values":[0,12,24,36],"title":"Time (months)"}},"y":{"field":"top","type":"quantitative","scale":{"domain":[0,101.87],"nice":false},"axis":{"values":[50,100],"title":"Probability of survival (%)"}},"y2":{"datum":0}}},
{"data":{"name":"km"},"transform":[{"filter":{"field":"c","oneOf":["pleuneg","pleu"]}}],"mark":{"type":"line","interpolate":"step-after","strokeWidth":1.5},"encoding":{"x":{"field":"t","type":"quantitative"},"y":{"field":"s","type":"quantitative"},"detail":{"field":"c"},"color":{"field":"g","type":"nominal","legend":null,"scale":{"domain":["neg","liver","lung","adrenal","bone","pleural","brain","n2","n3"],"range":["#111111","#ee3b3b","#3a3a8e","#a9742f","#c23ea6","#f8c48c","#c5c52c","#4a55b4","#ee3b3b"]}}}},
{"data":{"name":"cens"},"transform":[{"filter":{"field":"c","oneOf":["pleu","pleuneg"]}}],"mark":{"type":"tick","orient":"vertical","size":4.5,"thickness":1},"encoding":{"x":{"field":"t","type":"quantitative"},"y":{"field":"s","type":"quantitative"},"color":{"field":"g","type":"nominal","legend":null}}},
{"data":{"name":"leg"},"transform":[{"filter":{"field":"p","equal":"E"}}],"mark":{"type":"rule","strokeWidth":1.5},"encoding":{"x":{"field":"x1","type":"quantitative"},"x2":{"field":"x2"},"y":{"field":"y","type":"quantitative"},"color":{"field":"sg","type":"nominal","legend":null}}},
{"data":{"name":"leg"},"transform":[{"filter":{"field":"p","equal":"E"}}],"mark":{"type":"tick","orient":"vertical","size":4.5,"thickness":1},"encoding":{"x":{"field":"xm","type":"quantitative"},"y":{"field":"y","type":"quantitative"},"color":{"field":"sg","type":"nominal","legend":null}}},
{"data":{"name":"leg"},"transform":[{"filter":{"field":"p","equal":"E"}}],"mark":{"type":"text","align":"right","baseline":"middle","fontSize":8,"dx":-1},"encoding":{"x":{"field":"xv","type":"quantitative"},"y":{"field":"y","type":"quantitative"},"text":{"field":"val"},"color":{"field":"vg","type":"nominal","legend":null}}},
{"data":{"name":"leg"},"transform":[{"filter":{"field":"p","equal":"E"}}],"mark":{"type":"text","align":"left","baseline":"middle","fontSize":8.6,"color":"#000"},"encoding":{"x":{"field":"xl","type":"quantitative"},"y":{"field":"y","type":"quantitative"},"text":{"field":"lab"}}},
{"data":{"name":"hdr"},"transform":[{"filter":{"field":"p","equal":"E"}}],"mark":{"type":"text","align":"left","baseline":"middle","fontSize":8,"color":"#000"},"encoding":{"x":{"field":"x","type":"quantitative"},"y":{"field":"y","type":"quantitative"},"text":{"field":"text"}}},
{"data":{"name":"pv"},"transform":[{"filter":{"field":"p","equal":"E"}}],"mark":{"type":"text","align":"left","baseline":"middle","fontSize":9,"fontStyle":"italic","color":"#000"},"encoding":{"x":{"field":"x","type":"quantitative"},"y":{"field":"y","type":"quantitative"},"text":{"value":"P"}}},
{"data":{"name":"pv"},"transform":[{"filter":{"field":"p","equal":"E"}}],"mark":{"type":"text","align":"left","baseline":"middle","fontSize":9,"dx":8.5,"color":"#000"},"encoding":{"x":{"field":"x","type":"quantitative"},"y":{"field":"y","type":"quantitative"},"text":{"field":"v"}}},
{"data":{"name":"let"},"transform":[{"filter":{"field":"p","equal":"E"}}],"mark":{"type":"text","align":"center","baseline":"middle","fontSize":11.5,"color":"#000"},"encoding":{"x":{"field":"x","type":"quantitative"},"y":{"field":"y","type":"quantitative"},"text":{"field":"text"}}}
]},
{"width":154,"height":109,"layer":[
{"data":{"name":"box"},"transform":[{"filter":{"field":"p","equal":"F"}}],"mark":{"type":"rule","opacity":0,"color":"#fff"},"encoding":{"x":{"field":"xl","type":"quantitative"},"x2":{"field":"xr"},"y":{"field":"yt","type":"quantitative"},"y2":{"field":"yb"}}},
{"data":{"name":"dash"},"transform":[{"filter":{"field":"p","equal":"F"}}],"mark":{"type":"rule","strokeDash":[4,3],"strokeWidth":1.8,"color":"#000"},"encoding":{"x":{"field":"t","type":"quantitative","scale":{"domain":[0,36],"nice":false},"axis":{"values":[0,12,24,36],"title":"Time (months)"}},"y":{"field":"top","type":"quantitative","scale":{"domain":[0,105.83],"nice":false},"axis":{"values":[50,100],"title":"Probability of survival (%)","domain":false,"titleY":57.5}},"y2":{"datum":0}}},
{"data":{"values":[{}]},"mark":{"type":"rule","color":"#000","strokeWidth":1.6},"encoding":{"x":{"datum":0,"type":"quantitative"},"y":{"datum":0,"type":"quantitative"},"y2":{"datum":101}}},
{"data":{"name":"km"},"transform":[{"filter":{"field":"c","oneOf":["n1","n2","n3"]}}],"mark":{"type":"line","interpolate":"step-after","strokeWidth":2},"encoding":{"x":{"field":"t","type":"quantitative"},"y":{"field":"s","type":"quantitative"},"detail":{"field":"c"},"color":{"field":"g","type":"nominal","legend":null,"scale":{"domain":["neg","liver","lung","adrenal","bone","pleural","brain","n2","n3"],"range":["#111111","#ee3b3b","#3a3a8e","#a9742f","#c23ea6","#f8c48c","#c5c52c","#4a55b4","#ee3b3b"]}}}},
{"data":{"name":"cens"},"transform":[{"filter":{"field":"c","oneOf":["n1","n2","n3"]}}],"mark":{"type":"tick","orient":"vertical","size":4.5,"thickness":1},"encoding":{"x":{"field":"t","type":"quantitative"},"y":{"field":"s","type":"quantitative"},"color":{"field":"g","type":"nominal","legend":null}}},
{"data":{"name":"leg"},"transform":[{"filter":{"field":"p","equal":"F"}}],"mark":{"type":"rule","strokeWidth":2},"encoding":{"x":{"field":"x1","type":"quantitative"},"x2":{"field":"x2"},"y":{"field":"y","type":"quantitative"},"color":{"field":"sg","type":"nominal","legend":null}}},
{"data":{"name":"leg"},"transform":[{"filter":{"field":"p","equal":"F"}}],"mark":{"type":"tick","orient":"vertical","size":4.5,"thickness":1},"encoding":{"x":{"field":"xm","type":"quantitative"},"y":{"field":"y","type":"quantitative"},"color":{"field":"sg","type":"nominal","legend":null}}},
{"data":{"name":"leg"},"transform":[{"filter":{"field":"p","equal":"F"}}],"mark":{"type":"text","align":"right","baseline":"middle","fontSize":8,"dx":-1},"encoding":{"x":{"field":"xv","type":"quantitative"},"y":{"field":"y","type":"quantitative"},"text":{"field":"val"},"color":{"field":"vg","type":"nominal","legend":null}}},
{"data":{"name":"leg"},"transform":[{"filter":{"field":"p","equal":"F"}}],"mark":{"type":"text","align":"left","baseline":"middle","fontSize":7.2,"color":"#000"},"encoding":{"x":{"field":"xl","type":"quantitative"},"y":{"field":"y","type":"quantitative"},"text":{"field":"lab"}}},
{"data":{"name":"hdr"},"transform":[{"filter":{"field":"p","equal":"F"}}],"mark":{"type":"text","align":"left","baseline":"middle","fontSize":8,"color":"#000"},"encoding":{"x":{"field":"x","type":"quantitative"},"y":{"field":"y","type":"quantitative"},"text":{"field":"text"}}},
{"data":{"name":"pv"},"transform":[{"filter":{"field":"p","equal":"F"}}],"mark":{"type":"text","align":"left","baseline":"middle","fontSize":9,"fontStyle":"italic","color":"#000"},"encoding":{"x":{"field":"x","type":"quantitative"},"y":{"field":"y","type":"quantitative"},"text":{"value":"P"}}},
{"data":{"name":"pv"},"transform":[{"filter":{"field":"p","equal":"F"}}],"mark":{"type":"text","align":"left","baseline":"middle","fontSize":9,"dx":8.5,"color":"#000"},"encoding":{"x":{"field":"x","type":"quantitative"},"y":{"field":"y","type":"quantitative"},"text":{"field":"v"}}},
{"data":{"name":"let"},"transform":[{"filter":{"field":"p","equal":"F"}}],"mark":{"type":"text","align":"center","baseline":"middle","fontSize":11.5,"color":"#000"},"encoding":{"x":{"field":"x","type":"quantitative"},"y":{"field":"y","type":"quantitative"},"text":{"field":"text"}}}
]}
]},
{"columns":4,"spacing":0,"align":"each","concat":[
{"width":1,"height":1,"data":{"values":[]},"mark":"point"},
{"width":164,"height":135,"layer":[
{"data":{"name":"box"},"transform":[{"filter":{"field":"p","equal":"G1"}}],"mark":{"type":"rule","opacity":0,"color":"#fff"},"encoding":{"x":{"field":"xl","type":"quantitative"},"x2":{"field":"xr"},"y":{"field":"yt","type":"quantitative"},"y2":{"field":"yb"}}},
{"data":{"name":"dash"},"transform":[{"filter":{"field":"p","equal":"G1"}}],"mark":{"type":"rule","strokeDash":[4,3],"strokeWidth":1.8,"color":"#000"},"encoding":{"x":{"field":"t","type":"quantitative","scale":{"domain":[0,36],"nice":false},"axis":{"values":[0,12,24,36],"title":"Time (months)"}},"y":{"field":"top","type":"quantitative","scale":{"domain":[0,123.85],"nice":false},"axis":{"values":[50,100],"title":"Probability of survival (%)","domain":false,"titleY":80.5}},"y2":{"datum":0}}},
{"data":{"values":[{}]},"mark":{"type":"rule","color":"#000","strokeWidth":1.6},"encoding":{"x":{"datum":0,"type":"quantitative"},"y":{"datum":0,"type":"quantitative"},"y2":{"datum":101}}},
{"data":{"name":"km"},"transform":[{"filter":{"field":"c","oneOf":["brainneg","brain"]}}],"mark":{"type":"line","interpolate":"step-after","strokeWidth":1.5},"encoding":{"x":{"field":"t","type":"quantitative"},"y":{"field":"s","type":"quantitative"},"detail":{"field":"c"},"color":{"field":"g","type":"nominal","legend":null,"scale":{"domain":["neg","liver","lung","adrenal","bone","pleural","brain","n2","n3"],"range":["#111111","#ee3b3b","#3a3a8e","#a9742f","#c23ea6","#f8c48c","#c5c52c","#4a55b4","#ee3b3b"]}}}},
{"data":{"name":"cens"},"transform":[{"filter":{"field":"c","oneOf":["brain","brainneg"]}}],"mark":{"type":"tick","orient":"vertical","size":4.5,"thickness":1},"encoding":{"x":{"field":"t","type":"quantitative"},"y":{"field":"s","type":"quantitative"},"color":{"field":"g","type":"nominal","legend":null}}},
{"data":{"name":"leg"},"transform":[{"filter":{"field":"p","equal":"G1"}}],"mark":{"type":"rule","strokeWidth":1.5},"encoding":{"x":{"field":"x1","type":"quantitative"},"x2":{"field":"x2"},"y":{"field":"y","type":"quantitative"},"color":{"field":"sg","type":"nominal","legend":null}}},
{"data":{"name":"leg"},"transform":[{"filter":{"field":"p","equal":"G1"}}],"mark":{"type":"tick","orient":"vertical","size":4.5,"thickness":1,"color":"#111"},"encoding":{"x":{"field":"xm","type":"quantitative"},"y":{"field":"y","type":"quantitative"}}},
{"data":{"name":"leg"},"transform":[{"filter":{"field":"p","equal":"G1"}}],"mark":{"type":"text","align":"right","baseline":"middle","fontSize":8,"dx":-1},"encoding":{"x":{"field":"xv","type":"quantitative"},"y":{"field":"y","type":"quantitative"},"text":{"field":"val"},"color":{"field":"vg","type":"nominal","legend":null}}},
{"data":{"name":"leg"},"transform":[{"filter":{"field":"p","equal":"G1"}}],"mark":{"type":"text","align":"left","baseline":"middle","fontSize":8.6,"color":"#000"},"encoding":{"x":{"field":"xl","type":"quantitative"},"y":{"field":"y","type":"quantitative"},"text":{"field":"lab"}}},
{"data":{"name":"hdr"},"transform":[{"filter":{"field":"p","equal":"G1"}}],"mark":{"type":"text","align":"left","baseline":"middle","fontSize":8,"color":"#000"},"encoding":{"x":{"field":"x","type":"quantitative"},"y":{"field":"y","type":"quantitative"},"text":{"field":"text"}}},
{"data":{"name":"pv"},"transform":[{"filter":{"field":"p","equal":"G1"}}],"mark":{"type":"text","align":"left","baseline":"middle","fontSize":9,"fontStyle":"italic","color":"#000"},"encoding":{"x":{"field":"x","type":"quantitative"},"y":{"field":"y","type":"quantitative"},"text":{"value":"P"}}},
{"data":{"name":"pv"},"transform":[{"filter":{"field":"p","equal":"G1"}}],"mark":{"type":"text","align":"left","baseline":"middle","fontSize":9,"dx":8.5,"color":"#000"},"encoding":{"x":{"field":"x","type":"quantitative"},"y":{"field":"y","type":"quantitative"},"text":{"field":"v"}}},
{"data":{"name":"let"},"transform":[{"filter":{"field":"p","equal":"G1"}}],"mark":{"type":"text","align":"center","baseline":"middle","fontSize":11.5,"color":"#000"},"encoding":{"x":{"field":"x","type":"quantitative"},"y":{"field":"y","type":"quantitative"},"text":{"field":"text"}}}
]},
{"width":168,"height":133,"layer":[
{"data":{"name":"box"},"transform":[{"filter":{"field":"p","equal":"G2"}}],"mark":{"type":"rule","opacity":0,"color":"#fff"},"encoding":{"x":{"field":"xl","type":"quantitative"},"x2":{"field":"xr"},"y":{"field":"yt","type":"quantitative"},"y2":{"field":"yb"}}},
{"data":{"name":"dash"},"transform":[{"filter":{"field":"p","equal":"G2"}}],"mark":{"type":"rule","strokeDash":[4,3],"strokeWidth":1.8,"color":"#000"},"encoding":{"x":{"field":"t","type":"quantitative","scale":{"domain":[0,36],"nice":false},"axis":{"values":[0,12,24,36],"title":"Time (months)"}},"y":{"field":"top","type":"quantitative","scale":{"domain":[0,119.82],"nice":false},"axis":{"values":[50,100],"title":"Probability of survival (%)","domain":false,"titleY":77.5}},"y2":{"datum":0}}},
{"data":{"values":[{}]},"mark":{"type":"rule","color":"#000","strokeWidth":1.6},"encoding":{"x":{"datum":0,"type":"quantitative"},"y":{"datum":0,"type":"quantitative"},"y2":{"datum":101}}},
{"data":{"name":"km"},"transform":[{"filter":{"field":"c","oneOf":["brainneg","bwith","bwithout"]}}],"mark":{"type":"line","interpolate":"step-after","strokeWidth":1.5},"encoding":{"x":{"field":"t","type":"quantitative"},"y":{"field":"s","type":"quantitative"},"detail":{"field":"c"},"color":{"field":"g","type":"nominal","legend":null,"scale":{"domain":["neg","liver","lung","adrenal","bone","pleural","brain","n2","n3"],"range":["#111111","#ee3b3b","#3a3a8e","#a9742f","#c23ea6","#f8c48c","#c5c52c","#4a55b4","#ee3b3b"]}}}},
{"data":{"name":"cens"},"transform":[{"filter":{"field":"c","oneOf":["brainneg"]}}],"mark":{"type":"tick","orient":"vertical","size":4.5,"thickness":1},"encoding":{"x":{"field":"t","type":"quantitative"},"y":{"field":"s","type":"quantitative"},"color":{"field":"g","type":"nominal","legend":null}}},
{"data":{"name":"dots"},"transform":[{"filter":{"field":"c","equal":"bwith"}}],"mark":{"type":"point","filled":true,"color":"#111","size":14,"opacity":1},"encoding":{"x":{"field":"t","type":"quantitative"},"y":{"field":"s","type":"quantitative"}}},
{"data":{"name":"dots"},"transform":[{"filter":{"field":"c","equal":"bwithout"}}],"mark":{"type":"point","filled":true,"fill":"#c5c52c","stroke":"#222","strokeWidth":1,"size":16,"opacity":1},"encoding":{"x":{"field":"t","type":"quantitative"},"y":{"field":"s","type":"quantitative"}}},
{"data":{"name":"leg"},"transform":[{"filter":{"field":"p","equal":"G2"}}],"mark":{"type":"rule","strokeWidth":1.5},"encoding":{"x":{"field":"x1","type":"quantitative"},"x2":{"field":"x2"},"y":{"field":"y","type":"quantitative"},"color":{"field":"sg","type":"nominal","legend":null}}},
{"data":{"name":"leg"},"transform":[{"filter":{"and":[{"field":"p","equal":"G2"},{"field":"sym","equal":"tick"}]}}],"mark":{"type":"tick","orient":"vertical","size":4.5,"thickness":1},"encoding":{"x":{"field":"xm","type":"quantitative"},"y":{"field":"y","type":"quantitative"},"color":{"field":"sg","type":"nominal","legend":null}}},
{"data":{"name":"leg"},"transform":[{"filter":{"and":[{"field":"p","equal":"G2"},{"field":"sym","equal":"dot"}]}}],"mark":{"type":"point","filled":true,"color":"#111","size":14,"opacity":1},"encoding":{"x":{"field":"xm","type":"quantitative"},"y":{"field":"y","type":"quantitative"}}},
{"data":{"name":"leg"},"transform":[{"filter":{"and":[{"field":"p","equal":"G2"},{"field":"sym","equal":"circle"}]}}],"mark":{"type":"point","filled":true,"fill":"#c5c52c","stroke":"#222","strokeWidth":1,"size":16,"opacity":1},"encoding":{"x":{"field":"xm","type":"quantitative"},"y":{"field":"y","type":"quantitative"}}},
{"data":{"name":"leg"},"transform":[{"filter":{"field":"p","equal":"G2"}}],"mark":{"type":"text","align":"right","baseline":"middle","fontSize":8,"dx":-1},"encoding":{"x":{"field":"xv","type":"quantitative"},"y":{"field":"y","type":"quantitative"},"text":{"field":"val"},"color":{"field":"vg","type":"nominal","legend":null}}},
{"data":{"name":"leg"},"transform":[{"filter":{"field":"p","equal":"G2"}}],"mark":{"type":"text","align":"left","baseline":"middle","fontSize":8,"color":"#000","lineBreak":"\n","lineHeight":11},"encoding":{"x":{"field":"xl","type":"quantitative"},"y":{"field":"ly","type":"quantitative"},"text":{"field":"lab"}}},
{"data":{"name":"hdr"},"transform":[{"filter":{"field":"p","equal":"G2"}}],"mark":{"type":"text","align":"left","baseline":"middle","fontSize":8,"color":"#000"},"encoding":{"x":{"field":"x","type":"quantitative"},"y":{"field":"y","type":"quantitative"},"text":{"field":"text"}}},
{"data":{"name":"pv"},"transform":[{"filter":{"field":"p","equal":"G2"}}],"mark":{"type":"text","align":"left","baseline":"middle","fontSize":9,"fontStyle":"italic","color":"#000"},"encoding":{"x":{"field":"x","type":"quantitative"},"y":{"field":"y","type":"quantitative"},"text":{"value":"P"}}},
{"data":{"name":"pv"},"transform":[{"filter":{"field":"p","equal":"G2"}}],"mark":{"type":"text","align":"left","baseline":"middle","fontSize":9,"dx":8.5,"color":"#000"},"encoding":{"x":{"field":"x","type":"quantitative"},"y":{"field":"y","type":"quantitative"},"text":{"field":"v"}}}
]},
{"width":255,"height":170,"layer":[
{"data":{"name":"box"},"transform":[{"filter":{"field":"p","equal":"H"}}],"mark":{"type":"rule","opacity":0,"color":"#fff"},"encoding":{"x":{"field":"xl","type":"quantitative"},"x2":{"field":"xr"},"y":{"field":"yt","type":"quantitative"},"y2":{"field":"yb"}}},
{"data":{"name":"dash"},"transform":[{"filter":{"field":"p","equal":"H"}}],"mark":{"type":"rule","strokeDash":[4,3],"strokeWidth":1.8,"color":"#000"},"encoding":{"x":{"field":"t","type":"quantitative","scale":{"domain":[0,36],"nice":false},"axis":{"values":[0,12,24,36],"title":"Time (months)","labelFontSize":5.5,"titleFontSize":7.2,"labelPadding":1,"titlePadding":2}},"y":{"field":"top","type":"quantitative","scale":{"domain":[0,100],"nice":false},"axis":{"values":[50,100],"title":"Probability of survival (%)","labelFontSize":5.5,"titleFontSize":8,"titlePadding":5}},"y2":{"datum":0}}},
{"data":{"name":"km"},"transform":[{"filter":{"field":"c","oneOf":["liver","bone","bwith","bwithout","lung","adr","pleu"]}}],"mark":{"type":"line","interpolate":"step-after","strokeWidth":1.8},"encoding":{"x":{"field":"t","type":"quantitative"},"y":{"field":"s","type":"quantitative"},"detail":{"field":"c"},"color":{"field":"g","type":"nominal","legend":null,"scale":{"domain":["neg","liver","lung","adrenal","bone","pleural","brain","n2","n3"],"range":["#111111","#ff3b3b","#3a3a8e","#a9742f","#e05cb8","#fcc896","#c5c52c","#4a55b4","#ee3b3b"]}}}},
{"data":{"name":"cens"},"transform":[{"filter":{"field":"c","oneOf":["liver","bone","lung","adr","pleu"]}}],"mark":{"type":"tick","orient":"vertical","size":6,"thickness":1},"encoding":{"x":{"field":"t","type":"quantitative"},"y":{"field":"s","type":"quantitative"},"color":{"field":"g","type":"nominal","legend":null}}},
{"data":{"name":"dots"},"transform":[{"filter":{"field":"c","equal":"bwith"}}],"mark":{"type":"point","filled":true,"color":"#111","size":14,"opacity":1},"encoding":{"x":{"field":"t","type":"quantitative"},"y":{"field":"s","type":"quantitative"}}},
{"data":{"name":"dots"},"transform":[{"filter":{"field":"c","equal":"bwithout"}}],"mark":{"type":"point","filled":true,"fill":"#c5c52c","stroke":"#222","strokeWidth":1,"size":16,"opacity":1},"encoding":{"x":{"field":"t","type":"quantitative"},"y":{"field":"s","type":"quantitative"}}},
{"data":{"name":"leg"},"transform":[{"filter":{"field":"p","equal":"H"}}],"mark":{"type":"rule","strokeWidth":1.5},"encoding":{"x":{"field":"x1","type":"quantitative"},"x2":{"field":"x2"},"y":{"field":"y","type":"quantitative"},"color":{"field":"sg","type":"nominal","legend":null}}},
{"data":{"name":"leg"},"transform":[{"filter":{"and":[{"field":"p","equal":"H"},{"field":"sym","equal":"tick"}]}}],"mark":{"type":"tick","orient":"vertical","size":5,"thickness":1},"encoding":{"x":{"field":"xm","type":"quantitative"},"y":{"field":"y","type":"quantitative"},"color":{"field":"sg","type":"nominal","legend":null}}},
{"data":{"name":"leg"},"transform":[{"filter":{"and":[{"field":"p","equal":"H"},{"field":"sym","equal":"dot"}]}}],"mark":{"type":"point","filled":true,"color":"#111","size":10,"opacity":1},"encoding":{"x":{"field":"xm","type":"quantitative"},"y":{"field":"y","type":"quantitative"}}},
{"data":{"name":"leg"},"transform":[{"filter":{"and":[{"field":"p","equal":"H"},{"field":"sym","equal":"circle"}]}}],"mark":{"type":"point","filled":true,"fill":"#c5c52c","stroke":"#222","strokeWidth":1,"size":10,"opacity":1},"encoding":{"x":{"field":"xm","type":"quantitative"},"y":{"field":"y","type":"quantitative"}}},
{"data":{"name":"leg"},"transform":[{"filter":{"field":"p","equal":"H"}}],"mark":{"type":"text","align":"right","baseline":"middle","fontSize":5.5,"dx":-1},"encoding":{"x":{"field":"xv","type":"quantitative"},"y":{"field":"y","type":"quantitative"},"text":{"field":"val"},"color":{"field":"vg","type":"nominal","legend":null}}},
{"data":{"name":"leg"},"transform":[{"filter":{"field":"p","equal":"H"}}],"mark":{"type":"text","align":"left","baseline":"middle","fontSize":7.1,"color":"#000"},"encoding":{"x":{"field":"xl","type":"quantitative"},"y":{"field":"y","type":"quantitative"},"text":{"field":"lab"}}},
{"data":{"name":"hdr"},"transform":[{"filter":{"field":"p","equal":"H"}}],"mark":{"type":"text","align":"left","baseline":"middle","fontSize":5.8,"color":"#000"},"encoding":{"x":{"field":"x","type":"quantitative"},"y":{"field":"y","type":"quantitative"},"text":{"field":"text"}}},
{"data":{"name":"pv"},"transform":[{"filter":{"field":"p","equal":"H"}}],"mark":{"type":"text","align":"left","baseline":"middle","fontSize":8.6,"fontStyle":"italic","color":"#000"},"encoding":{"x":{"field":"x","type":"quantitative"},"y":{"field":"y","type":"quantitative"},"text":{"value":"P"}}},
{"data":{"name":"pv"},"transform":[{"filter":{"field":"p","equal":"H"}}],"mark":{"type":"text","align":"left","baseline":"middle","fontSize":8.6,"dx":8,"color":"#000"},"encoding":{"x":{"field":"x","type":"quantitative"},"y":{"field":"y","type":"quantitative"},"text":{"field":"v"}}},
{"data":{"name":"let"},"transform":[{"filter":{"field":"p","equal":"H"}}],"mark":{"type":"text","align":"center","baseline":"middle","fontSize":11.5,"color":"#000"},"encoding":{"x":{"field":"x","type":"quantitative"},"y":{"field":"y","type":"quantitative"},"text":{"field":"text"}}}
]}
]}
]
}
